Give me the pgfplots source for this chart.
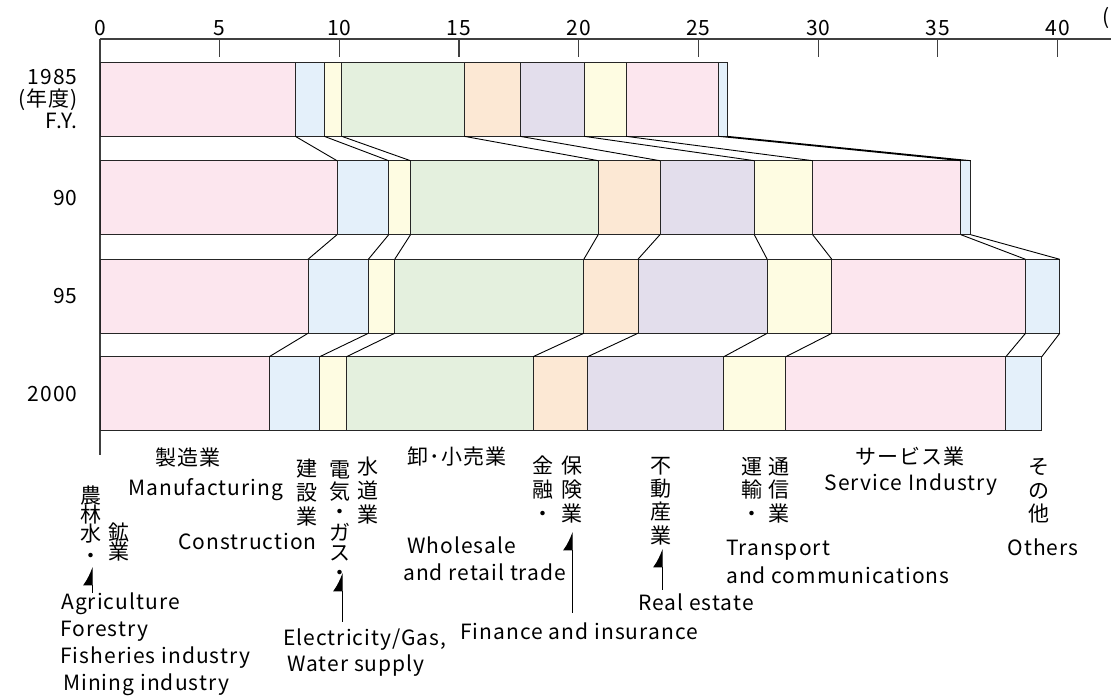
\documentclass[border=0pt]{standalone}
\usepackage{fontspec}
\setmainfont{Noto Sans CJK JP}[LetterSpace=5]
\usepackage{pgfplots}
\usepackage{pgfplotstable}
\pgfplotsset{compat=1.18}
\usetikzlibrary{arrows.meta}
\definecolor{cManu}{RGB}{252,230,238}
\definecolor{cCons}{RGB}{228,240,250}
\definecolor{cElec}{RGB}{254,252,226}
\definecolor{cWhol}{RGB}{228,240,222}
\definecolor{cFin}{RGB}{252,232,212}
\definecolor{cReal}{RGB}{227,222,236}
\newcommand\lab{\fontsize{21}{22}\selectfont}

% segment values (units of the top scale)
\pgfplotstableread{
y      manu cons elec whol fin  real trans serv other
355.65 8.16 1.21 0.73 5.12 2.33 2.68 1.75 3.86 0.37
257.3  9.90 2.16 0.91 7.84 2.58 3.94 2.44 6.19 0.41
158.7  8.69 2.52 1.10 7.90 2.26 5.40 2.70 8.09 1.43
61.3   7.07 2.11 1.12 7.79 2.28 5.69 2.59 9.19 1.50
}\bars

\begin{document}
\begin{tikzpicture}
\path[use as bounding box] (0,0) rectangle (1111pt,696pt);
\begin{axis}[
  at={(100pt,241pt)}, anchor=south west,
  scale only axis, width=1011pt, height=416pt,
  xmin=0, xmax=42.23, ymin=0, ymax=416,
  xbar stacked, bar width=74,
  axis x line*=top, axis y line*=left,
  axis line style={draw=black!75, line width=1.3pt},
  xtick={0,5,...,40},
  tick align=inside,
  x tick style={draw=black!75, line width=1.2pt},
  major tick length=18pt,
  ytick={355.65,257.3,158.7,61.3},
  yticklabels={{1985\\(年度)\\F.Y.},90,95,2000},
  y tick style={draw=none},
  ticklabel style={font=\lab},
  yticklabel style={align=right, xshift=-19pt},
  /pgf/number format/assume math mode=true,
  every axis plot/.append style={draw=black!85, line width=0.8pt},
]
\addplot[fill=cManu] table[x=manu, y=y]{\bars};
\addplot[fill=cCons] table[x=cons, y=y]{\bars};
\addplot[fill=cElec] table[x=elec, y=y]{\bars};
\addplot[fill=cWhol] table[x=whol, y=y]{\bars};
\addplot[fill=cFin] table[x=fin, y=y]{\bars};
\addplot[fill=cReal] table[x=real, y=y]{\bars};
\addplot[fill=cElec] table[x=trans, y=y]{\bars};
\addplot[fill=cManu] table[x=serv, y=y]{\bars};
\addplot[fill=cCons] table[x=other, y=y]{\bars};
\end{axis}
\begin{axis}[
  at={(100pt,241pt)}, anchor=south west,
  scale only axis, width=1011pt, height=416pt,
  xmin=0, xmax=42.23, ymin=0, ymax=416,
  hide axis, unbounded coords=jump,
]
\addplot[black, line width=0.9pt, mark=none] coordinates {
(8.16,318.65) (9.90,294.3) (nan,nan)
(9.37,318.65) (12.06,294.3) (nan,nan)
(10.10,318.65) (12.97,294.3) (nan,nan)
(15.22,318.65) (20.81,294.3) (nan,nan)
(17.55,318.65) (23.39,294.3) (nan,nan)
(20.23,318.65) (27.33,294.3) (nan,nan)
(21.98,318.65) (29.77,294.3) (nan,nan)
(25.84,318.65) (35.96,294.3) (nan,nan)
(26.21,318.65) (36.37,294.3) (nan,nan)
(9.90,220.3) (8.69,195.7) (nan,nan)
(12.06,220.3) (11.21,195.7) (nan,nan)
(12.97,220.3) (12.31,195.7) (nan,nan)
(20.81,220.3) (20.21,195.7) (nan,nan)
(23.39,220.3) (22.47,195.7) (nan,nan)
(27.33,220.3) (27.87,195.7) (nan,nan)
(29.77,220.3) (30.57,195.7) (nan,nan)
(35.96,220.3) (38.66,195.7) (nan,nan)
(36.37,220.3) (40.09,195.7) (nan,nan)
(8.69,121.7) (7.07,98.3) (nan,nan)
(11.21,121.7) (9.18,98.3) (nan,nan)
(12.31,121.7) (10.30,98.3) (nan,nan)
(20.21,121.7) (18.09,98.3) (nan,nan)
(22.47,121.7) (20.37,98.3) (nan,nan)
(27.87,121.7) (26.06,98.3) (nan,nan)
(30.57,121.7) (28.65,98.3) (nan,nan)
(38.66,121.7) (37.84,98.3) (nan,nan)
(40.09,121.7) (39.34,98.3)
};
\end{axis}
\begin{scope}[x=1pt,y=-1pt,shift={(0pt,696pt)},
  every node/.style={font=\lab, inner sep=0pt, text height=0.75em, text depth=0.2em, yshift=-5pt},
  vc/.style={text height=0.65em, text depth=0em, yshift=-3pt}]
% top-right clipped unit
\node[anchor=west] at (1102,17) {(};
% horizontal labels
\node at (188,458) {製造業};
\node[anchor=west] at (128,488) {Manufacturing};
\node[anchor=east] at (317,542) {Construction};
\node[anchor=west] at (61,602) {Agriculture};
\node[anchor=west] at (60,629) {Forestry};
\node[anchor=west] at (60,656) {Fisheries industry};
\node[anchor=west] at (63,683) {Mining industry};
\node[anchor=west] at (283,638) {Electricity/Gas,};
\node[anchor=west] at (287,664) {Water supply};
\node at (457,457) {卸･小売業};
\node[anchor=west] at (407,546) {Wholesale};
\node[anchor=west] at (403,573) {and retail trade};
\node[anchor=west] at (460,632) {Finance and insurance};
\node[anchor=west] at (638,603) {Real estate};
\node[anchor=west] at (726,548) {Transport};
\node[anchor=west] at (726,576) {and communications};
\node at (910,457) {サービス業};
\node at (911,483) {Service Industry};
\node at (1043,548) {Others};
% vertical labels
\foreach \c/\y in {農/492,林/511,水/530,・/552} \node[vc] at (91,\y) {\c};
\foreach \c/\y in {鉱/529,業/548} \node[vc] at (119,\y) {\c};
\foreach \c/\y in {建/465,設/489,業/513} \node[vc] at (307,\y) {\c};
\foreach \c/\y in {電/466,気/488,・/508,ガ/529,ス/549,・/569} \node[vc] at (340,\y) {\c};
\foreach \c/\y in {水/463,道/487,業/511} \node[vc] at (368,\y) {\c};
\foreach \c/\y in {金/462,融/486,・/510} \node[vc] at (543,\y) {\c};
\foreach \c/\y in {保/462,険/486,業/510} \node[vc] at (572,\y) {\c};
\foreach \c/\y in {不/462,動/485,産/508,業/532} \node[vc] at (661,\y) {\c};
\foreach \c/\y in {運/463,輸/486,・/510} \node[vc] at (752,\y) {\c};
\foreach \c/\y in {通/463,信/486,業/510} \node[vc] at (779,\y) {\c};
\foreach \c/\y in {そ/463,の/487,他/510} \node[vc] at (1039,\y) {\c};
% pointer arrows
\begin{scope}[line width=1pt, -{Latex[harpoon, length=17pt, width=18pt]}]
\draw (92,593) -- (92,567);
\draw (342,622) -- (342,573);
\draw (572,613) -- (572,532);
\draw (662,590) -- (662,549);
\end{scope}
\end{scope}
\end{tikzpicture}
\end{document}
